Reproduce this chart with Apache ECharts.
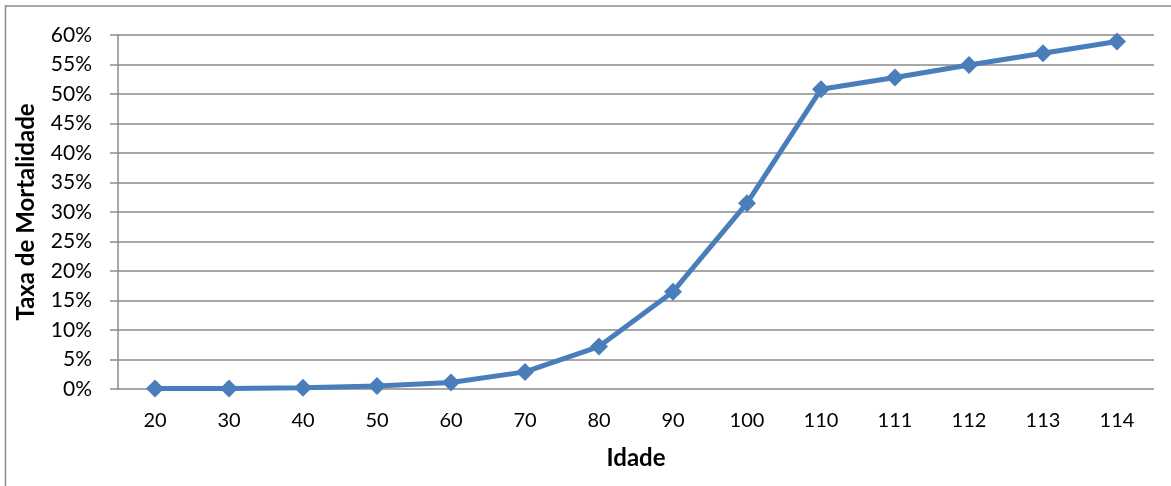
<!DOCTYPE html>
<html>
<head>
<meta charset="utf-8">
<script src="https://cdn.jsdelivr.net/npm/echarts@6/dist/echarts.min.js"></script>
<style>
  html, body { margin: 0; padding: 0; background: #fff; }
  #chart { width: 1171px; height: 486px; }
</style>
</head>
<body>
<div id="chart"></div>
<script>
// Ages (category axis)
const idades = ['20', '30', '40', '50', '60', '70', '80', '90', '100', '110', '111', '112', '113', '114'];
// Mortality rate, percent
const taxaMortalidade = [0.1, 0.1, 0.2, 0.5, 1.1, 2.9, 7.2, 16.5, 31.5, 50.8, 52.8, 54.9, 56.9, 58.9];
// Y axis range and step, percent
const yMin = 0, yMax = 60, yStep = 5;

const FONT = 'Lato, "Open Sans", sans-serif';
const chart = echarts.init(document.getElementById('chart'), null, { renderer: 'canvas' });

chart.setOption({
  backgroundColor: '#ffffff',
  animation: false,
  graphic: [{
    type: 'rect',
    shape: { x: 5.5, y: 6, width: 1180, height: 500 },
    style: { fill: 'none', stroke: '#8a8a8a', lineWidth: 1.5 },
    silent: true
  }],
  grid: { left: 118, right: 17, top: 35, bottom: 97 },
  xAxis: {
    type: 'category',
    data: idades,
    boundaryGap: true,
    name: 'Idade',
    nameLocation: 'middle',
    nameGap: 57,
    nameTextStyle: { fontFamily: FONT, fontSize: 24, fontWeight: 'bold', color: '#000' },
    axisLine: { show: false },
    axisTick: { show: false },
    axisLabel: { fontFamily: FONT, fontSize: 20, color: '#000', margin: 22 }
  },
  yAxis: {
    type: 'value',
    min: yMin,
    max: yMax,
    interval: yStep,
    name: 'Taxa de Mortalidade',
    nameLocation: 'middle',
    nameGap: 80,
    nameRotate: 90,
    nameTextStyle: { fontFamily: FONT, fontSize: 24, fontWeight: 'bold', color: '#000' },
    axisLine: { show: true, lineStyle: { color: '#8a8a8a', width: 1.5 } },
    axisTick: { show: true, length: 8, inside: false, lineStyle: { color: '#8a8a8a', width: 1.5 } },
    axisLabel: { fontFamily: FONT, fontSize: 21, color: '#000', margin: 26, formatter: v => v + '%' },
    splitLine: { show: true, lineStyle: { color: '#8a8a8a', width: 1.5 } }
  },
  series: [{
    type: 'line',
    data: taxaMortalidade,
    symbol: 'diamond',
    symbolSize: 18,
    showAllSymbol: true,
    lineStyle: { color: '#4A7EBB', width: 5 },
    itemStyle: { color: '#4A7EBB' },
    z: 5
  }]
});
</script>
</body>
</html>
